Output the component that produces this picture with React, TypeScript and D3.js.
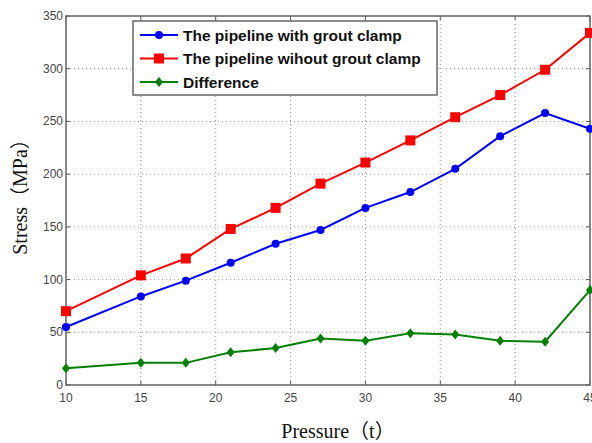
import * as d3 from "d3";
import React from "react";

// pressure (t)
const pressure = [10, 15, 18, 21, 24, 27, 30, 33, 36, 39, 42, 45];
const withClamp = [55, 84, 99, 116, 134, 147, 168, 183, 205, 236, 258, 243];
const withoutClamp = [70, 104, 120, 148, 168, 191, 211, 232, 254, 275, 299, 334];
const difference = [16, 21, 21, 31, 35, 44, 42, 49, 48, 42, 41, 90];

const xTicks = [10, 15, 20, 25, 30, 35, 40, 45];
const yTicks = [0, 50, 100, 150, 200, 250, 300, 350];

const seriesNames = [
  "The pipeline with grout clamp",
  "The pipeline wihout grout clamp",
  "Difference",
];

const App = () => {
  const width = 592;
  const height = 443;
  const left = 66;
  const right = 590;
  const top = 16;
  const bottom = 385;

  const x = d3.scaleLinear().domain([10, 45]).range([left, right]);
  const y = d3.scaleLinear().domain([0, 350]).range([bottom, top]);

  const series = [
    { name: seriesNames[0], values: withClamp, color: "#0000ff", marker: "circle" },
    { name: seriesNames[1], values: withoutClamp, color: "#ff0000", marker: "square" },
    { name: seriesNames[2], values: difference, color: "#008000", marker: "diamond" },
  ];

  const line = d3
    .line<number>()
    .x((_, i) => x(pressure[i]))
    .y((d) => y(d));

  const marker = (kind: string, cx: number, cy: number, color: string, key: any) => {
    if (kind === "circle") return <circle key={key} cx={cx} cy={cy} r={4} fill={color} />;
    if (kind === "square")
      return <rect key={key} x={cx - 5} y={cy - 5} width={10} height={10} fill={color} />;
    return (
      <path
        key={key}
        d={`M${cx},${cy - 5}L${cx + 4},${cy}L${cx},${cy + 5}L${cx - 4},${cy}Z`}
        fill={color}
      />
    );
  };

  return (
    <svg width={width} height={height} style={{ position: "absolute", left: 0, top: 0 }}>
      <rect x={0} y={0} width={width} height={height} fill="#fff" />
      {/* grid */}
      {xTicks.map((t) => (
        <line key={"gx" + t} x1={x(t)} x2={x(t)} y1={top} y2={bottom}
          stroke="#999" strokeDasharray="1,3" />
      ))}
      {yTicks.map((t) => (
        <line key={"gy" + t} x1={left} x2={right} y1={y(t)} y2={y(t)}
          stroke="#999" strokeDasharray="1,3" />
      ))}
      {/* ticks inside */}
      {xTicks.map((t) => (
        <g key={"tx" + t} stroke="#555">
          <line x1={x(t)} x2={x(t)} y1={bottom} y2={bottom - 4} />
          <line x1={x(t)} x2={x(t)} y1={top} y2={top + 4} />
        </g>
      ))}
      {yTicks.map((t) => (
        <g key={"ty" + t} stroke="#555">
          <line x1={left} x2={left + 4} y1={y(t)} y2={y(t)} />
          <line x1={right} x2={right - 4} y1={y(t)} y2={y(t)} />
        </g>
      ))}
      <rect x={left} y={top} width={right - left} height={bottom - top}
        fill="none" stroke="#666" strokeWidth={1.5} />
      {/* tick labels */}
      {xTicks.map((t) => (
        <text key={"lx" + t} x={x(t)} y={bottom + 17} textAnchor="middle"
          fontFamily="Liberation Sans, Arial" fontSize={12} fill="#444">{t}</text>
      ))}
      {yTicks.map((t) => (
        <text key={"ly" + t} x={left - 3} y={y(t) + 4} textAnchor="end"
          fontFamily="Liberation Sans, Arial" fontSize={12} fill="#444">{t}</text>
      ))}
      {/* series */}
      {series.map((s) => (
        <g key={s.name}>
          <path d={line(s.values) || ""} fill="none" stroke={s.color} strokeWidth={2} />
          {s.values.map((v, i) => marker(s.marker, x(pressure[i]), y(v), s.color, i))}
        </g>
      ))}
      {/* legend */}
      <rect x={133} y={21} width={304} height={74} fill="#fff" stroke="#666" strokeWidth={1.5} />
      {series.map((s, i) => {
        const ly = 35 + i * 23.5;
        return (
          <g key={"lg" + i}>
            <line x1={140} x2={178} y1={ly} y2={ly} stroke={s.color} strokeWidth={2} />
            {marker(s.marker, 159, ly, s.color, "m")}
            <text x={183} y={ly + 5.5} fontFamily="Liberation Sans, Arial" fontWeight="bold"
              fontSize={15.5} fill="#111">{s.name}</text>
          </g>
        );
      })}
      {/* axis titles */}
      <text x={0} y={0} transform={`translate(27,192) rotate(-90)`}
        textAnchor="middle" fontFamily="Liberation Serif, Noto Sans CJK SC" fontSize={20}
        fill="#111">Stress（MPa）</text>
      <text x={338} y={438} textAnchor="middle"
        fontFamily="Liberation Serif, Noto Sans CJK SC" fontSize={20} fill="#111">Pressure（t）</text>
    </svg>
  );
};

export default App;
